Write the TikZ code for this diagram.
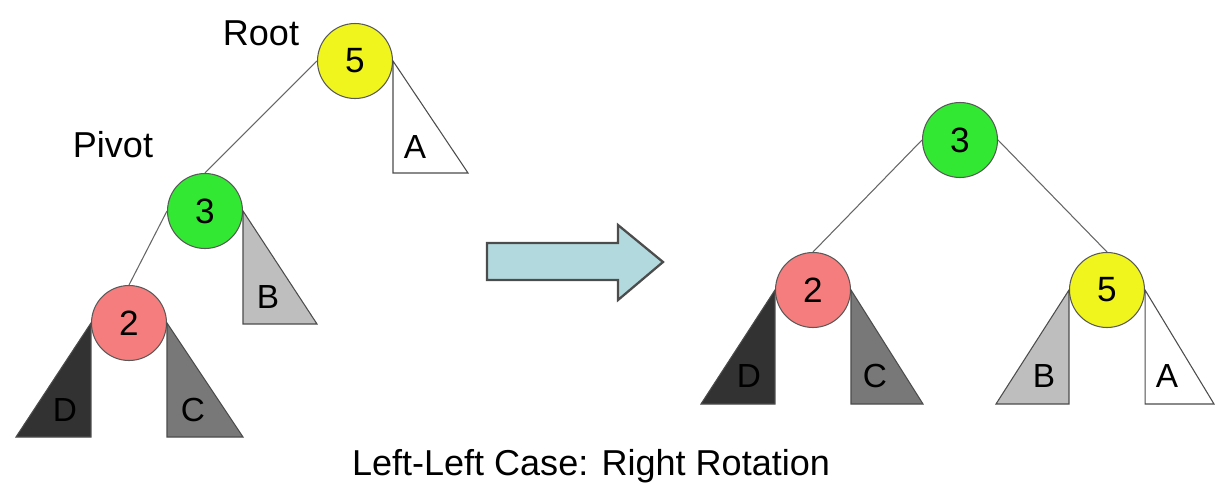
\documentclass[tikz,border=0pt]{standalone}
\usepackage{fontspec}
\setmainfont{Liberation Sans}
\usetikzlibrary{positioning,calc}
\definecolor{keyyellow}{RGB}{240,245,30}
\definecolor{keygreen}{RGB}{50,232,50}
\definecolor{keyred}{RGB}{245,125,125}
\definecolor{subA}{RGB}{255,255,255}
\definecolor{subB}{RGB}{190,190,190}
\definecolor{subC}{RGB}{120,120,120}
\definecolor{subD}{RGB}{50,50,50}
\definecolor{arrowfill}{RGB}{178,218,222}

\begin{document}
\begin{tikzpicture}[
          x=0.02cm, y=-0.02cm,
          every node/.style={font=\fontsize{20}{24}\selectfont},
          key/.style={circle,draw=black!65,line width=0.6pt,minimum size=1.5cm,inner sep=0pt},
          subtree/.style={draw=black!70,line width=0.6pt,line join=miter},
          sublbl/.style={font=\fontsize{19}{23}\selectfont,inner sep=0pt},
          link/.style={draw=black!60,line width=0.6pt},
          tag/.style={anchor=base,font=\fontsize{20.5}{24}\selectfont},
        ]
        \useasboundingbox (0,0) rectangle (1225,491);
        % before rotation
        \node[key,fill=keyyellow] (root5) at (355,61)  {5};
        \node[key,fill=keygreen]  (piv3)  at (205,211) {3};
        \node[key,fill=keyred]    (left2) at (129,323) {2};
        \node[tag] (roottag)  at (261,45)  {Root};
        \node[tag] (pivottag) at (113,157) {Pivot};
        \draw[link] (root5.west) -- (piv3.north);
        \draw[link] (piv3.west) -- (left2.north);
        \draw[subtree,fill=subA] (root5.east) -- ++(0,112) -- ++(75,0) -- cycle;
        \draw[subtree,fill=subB] (piv3.east) -- ++(0,113) -- ++(74,0) -- cycle;
        \draw[subtree,fill=subD] (left2.west) -- ++(0,114) -- ++(-75,0) -- cycle;
        \draw[subtree,fill=subC] (left2.east) -- ++(0,114) -- ++(76,0) -- cycle;
        \node[sublbl] (labA) at ($(root5.east)+(22,86)$) {A};
        \node[sublbl] (labB) at ($(piv3.east)+(25,86)$)  {B};
        \node[sublbl] (labD) at ($(left2.west)+(-26,87)$) {D};
        \node[sublbl] (labC) at ($(left2.east)+(26,87)$) {C};
        % rotation arrow
        \draw[draw=black!70,line width=1.3pt,fill=arrowfill,line join=miter]
          (487,243) -- (618,243) -- (618,225) -- (663,262) -- (618,300)
          -- (618,280) -- (487,280) -- cycle;
        % after rotation
        \node[key,fill=keygreen]  (top3) at (960,140)  {3};
        \node[key,fill=keyred]    (low2) at (813,290)  {2};
        \node[key,fill=keyyellow] (low5) at (1107,290) {5};
        \draw[link] (top3.west) -- (low2.north);
        \draw[link] (top3.east) -- (low5.north);
        \draw[subtree,fill=subD] (low2.west) -- ++(0,114) -- ++(-74,0) -- cycle;
        \draw[subtree,fill=subC] (low2.east) -- ++(0,114) -- ++(72,0) -- cycle;
        \draw[subtree,fill=subB] (low5.west) -- ++(0,114) -- ++(-73,0) -- cycle;
        \draw[subtree,fill=subA] (low5.east) -- ++(0,114) -- ++(69,0) -- cycle;
        \node[sublbl] (labD2) at ($(low2.west)+(-26,86)$) {D};
        \node[sublbl] (labC2) at ($(low2.east)+(24,86)$)  {C};
        \node[sublbl] (labB2) at ($(low5.west)+(-25,86)$) {B};
        \node[sublbl] (labA2) at ($(low5.east)+(22,86)$)  {A};
        \node[tag] (caption) at (591,475) {Left-Left Case: Right Rotation};
      \end{tikzpicture}
\end{document}
